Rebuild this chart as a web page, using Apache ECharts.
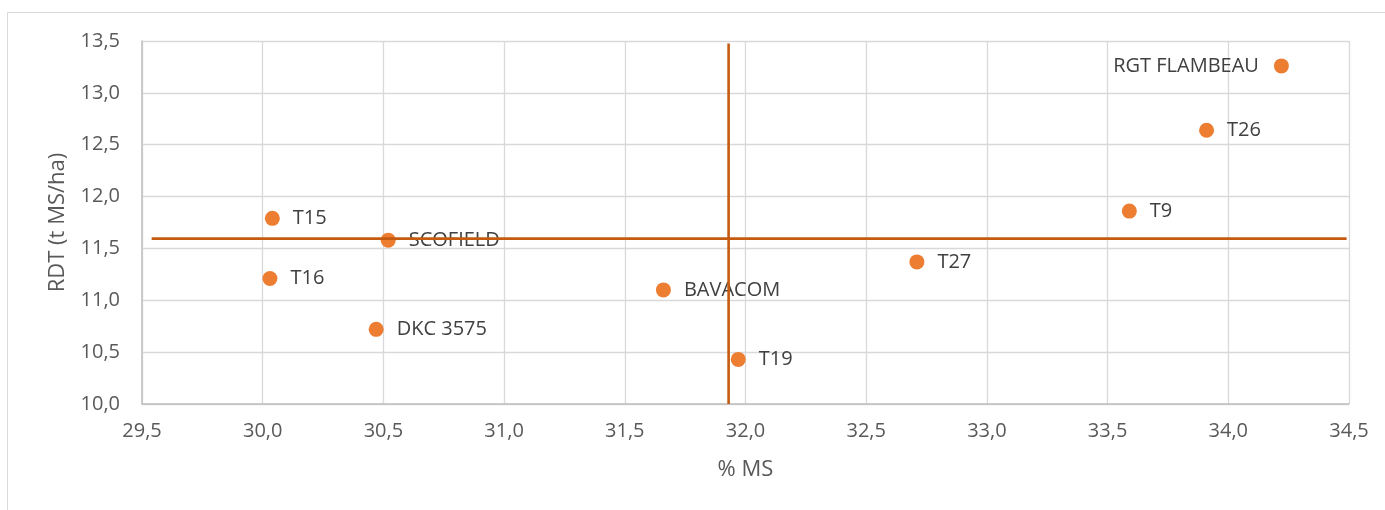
<!DOCTYPE html>
<html>
<head>
<meta charset="utf-8">
<script src="https://cdn.jsdelivr.net/npm/echarts@6/dist/echarts.min.js"></script>
<style>
html,body{margin:0;padding:0;background:#fff;}
#c{width:1385px;height:510px;}
</style>
</head>
<body>
<div id="c"></div>
<script>
var names = ['T15','T16','SCOFIELD','DKC 3575','BAVACOM','T19','T27','T9','T26','RGT FLAMBEAU'];
var ms    = [30.04, 30.03, 30.52, 30.47, 31.66, 31.97, 32.71, 33.59, 33.91, 34.22];
var rdt   = [11.79, 11.21, 11.58, 10.72, 11.10, 10.43, 11.37, 11.86, 12.64, 13.26];
var meanMsLine  = [[31.93, 10.0], [31.93, 13.475]];
var meanRdtLine = [[29.54, 11.595], [34.49, 11.595]];
var xTicks = {min: 29.5, max: 34.5, interval: 0.5};
var yTicks = {min: 10.0, max: 13.5, interval: 0.5};

var FONT = '"Open Sans", "Liberation Sans", sans-serif';
var fmt = function (v) { return v.toFixed(1).replace('.', ','); };

var pts = names.map(function (n, i) {
  var d = {value: [ms[i], rdt[i]], name: n};
  if (n === 'RGT FLAMBEAU') d.label = {position: 'left', distance: 15};
  return d;
});

var chart = echarts.init(document.getElementById('c'), null, {renderer: 'canvas'});
chart.setOption({
  animation: false,
  backgroundColor: '#fff',
  graphic: [{
    type: 'rect', left: 7, top: 12, z: -10, silent: true,
    shape: {width: 1400, height: 520},
    style: {fill: '#fff', stroke: '#d9d9d9', lineWidth: 1}
  }],
  grid: {left: 142, right: 36, top: 41, bottom: 106},
  xAxis: {
    type: 'value', min: xTicks.min, max: xTicks.max, interval: xTicks.interval,
    name: '% MS', nameLocation: 'middle', nameGap: 55,
    nameTextStyle: {fontFamily: FONT, fontSize: 22, color: '#595959'},
    axisLine: {show: true, onZero: false, lineStyle: {color: '#bfbfbf', width: 1.5}},
    axisTick: {show: false},
    axisLabel: {fontFamily: FONT, fontSize: 20, color: '#595959', margin: 17, formatter: fmt},
    splitLine: {show: true, lineStyle: {color: '#d9d9d9', width: 1.3}}
  },
  yAxis: {
    type: 'value', min: yTicks.min, max: yTicks.max, interval: yTicks.interval,
    name: 'RDT (t MS/ha)', nameLocation: 'middle', nameGap: 73,
    nameTextStyle: {fontFamily: FONT, fontSize: 22, color: '#595959'},
    axisLine: {show: true, onZero: false, lineStyle: {color: '#bfbfbf', width: 1.5}},
    axisTick: {show: false},
    axisLabel: {fontFamily: FONT, fontSize: 20, color: '#595959', margin: 22, formatter: fmt},
    splitLine: {show: true, lineStyle: {color: '#d9d9d9', width: 1.3}}
  },
  series: [
    {
      type: 'scatter', z: 2, data: pts, symbolSize: 15,
      itemStyle: {color: '#ED7D31', opacity: 1},
      label: {
        show: true, position: 'right', distance: 13,
        formatter: function (p) { return p.name; },
        fontFamily: FONT, fontSize: 20, color: '#404040', opacity: 1
      }
    },
    {
      type: 'line', z: 5, data: meanRdtLine, symbol: 'none',
      lineStyle: {color: '#C55A11', width: 2.6}
    },
    {
      type: 'line', z: 5, data: meanMsLine, symbol: 'none',
      lineStyle: {color: '#C55A11', width: 2.6}
    }
  ]
});
</script>
</body>
</html>
